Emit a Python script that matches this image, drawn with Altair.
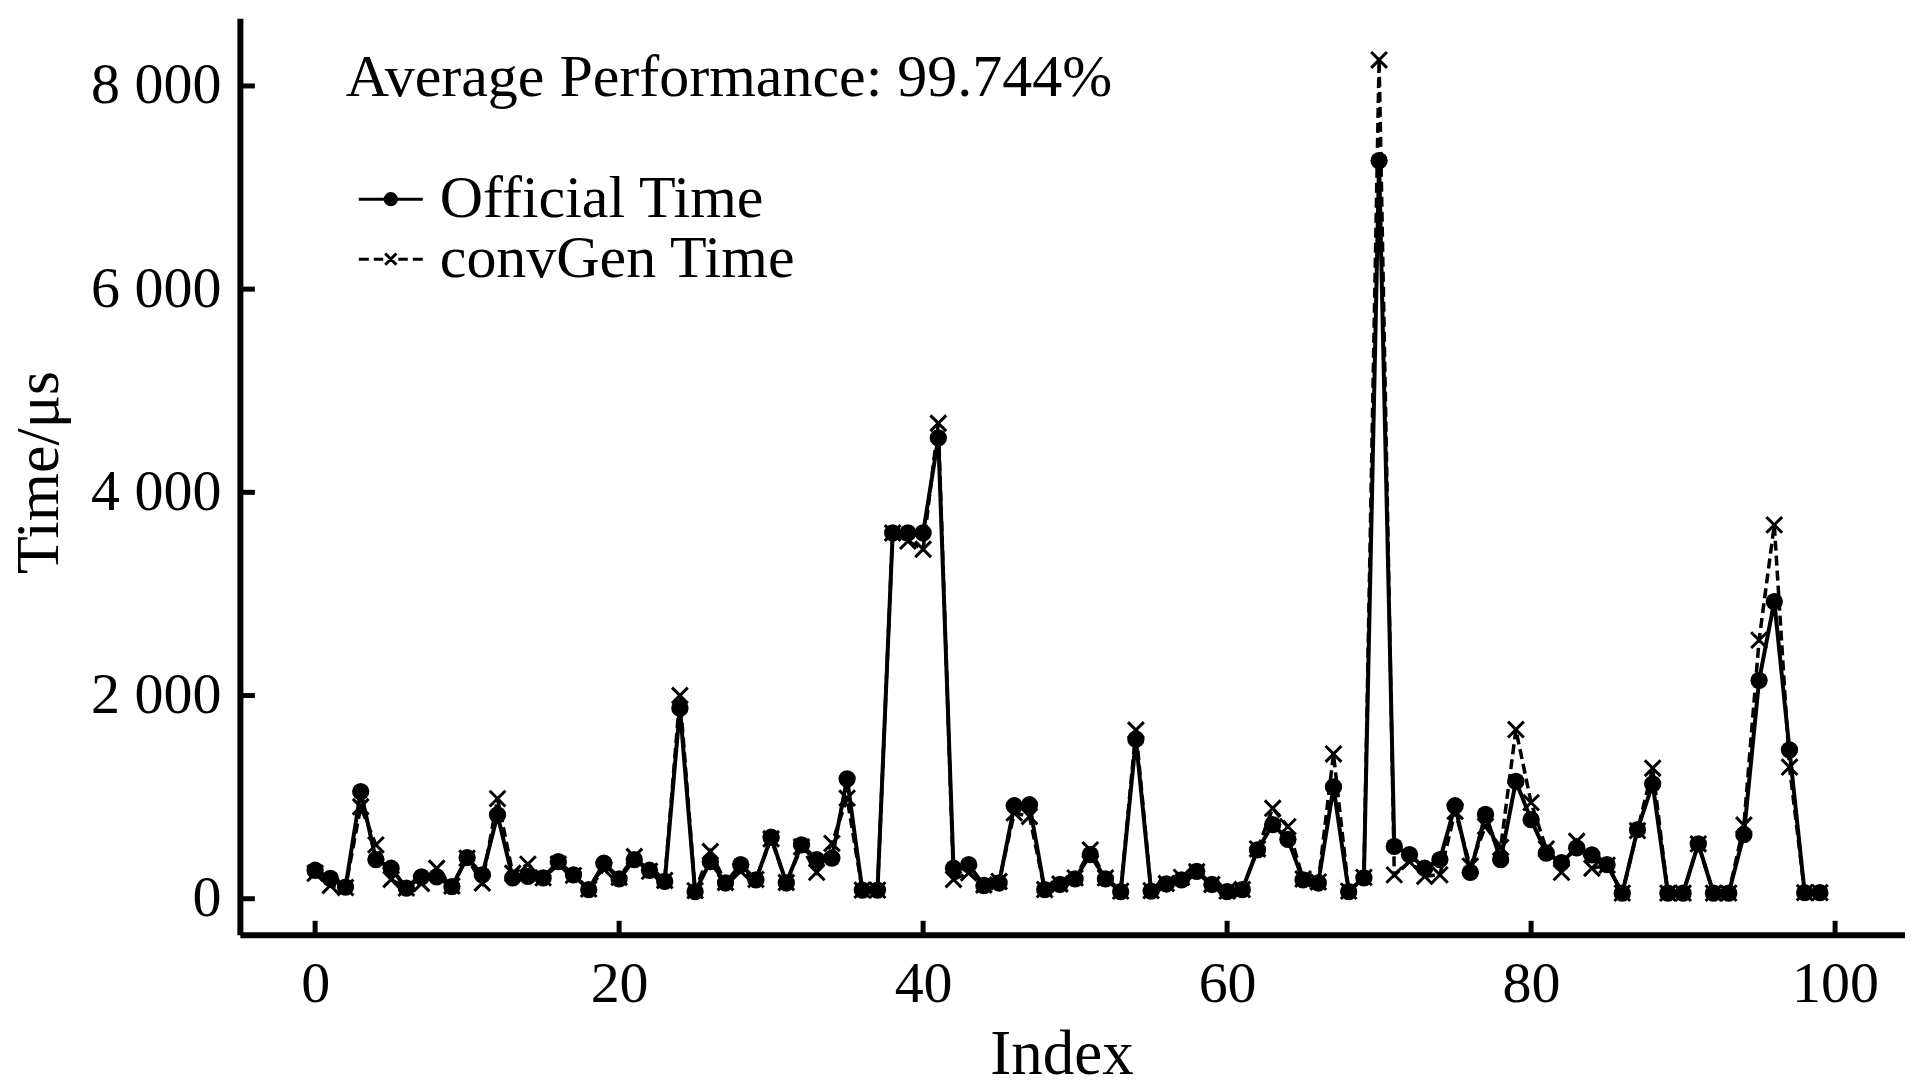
import altair as alt
import pandas as pd

index = list(range(100))
official = [280, 200, 115, 1055, 385, 300, 105, 215, 215, 120,
            405, 235, 825, 205, 220, 205, 365, 235, 90, 350,
            195, 385, 280, 170, 1875, 70, 365, 155, 335, 185,
            605, 155, 530, 385, 400, 1180, 85, 85, 3600, 3600,
            3600, 4535, 300, 335, 130, 155, 915, 925, 90, 140,
            195, 435, 195, 70, 1570, 75, 145, 185, 270, 140,
            70, 90, 480, 730, 585, 185, 155, 1100, 70, 205,
            7265, 515, 435, 300, 385, 915, 260, 830, 385, 1155,
            778, 450, 356, 500, 432, 335, 55, 680, 1130, 55,
            55, 540, 55, 55, 630, 2150, 2925, 1465, 60, 60]
convgen = [250, 130, 110, 905, 530, 190, 105, 150, 300, 125,
           400, 155, 985, 250, 340, 205, 340, 230, 95, 290,
           210, 415, 270, 180, 2000, 80, 465, 160, 270, 190,
           590, 160, 510, 260, 545, 990, 85, 85, 3600, 3520,
           3440, 4680, 190, 255, 135, 170, 845, 810, 90, 145,
           205, 480, 205, 75, 1660, 80, 150, 210, 265, 140,
           75, 90, 490, 890, 710, 195, 165, 1425, 75, 210,
           8256, 235, 365, 220, 235, 860, 320, 712, 505, 1665,
           946, 490, 260, 565, 300, 330, 55, 670, 1285, 55,
           55, 540, 55, 55, 725, 2545, 3680, 1295, 60, 60]
series_names = ["Official Time", "convGen Time"]
x_ticks = [0, 20, 40, 60, 80, 100]
y_ticks = [0, 2000, 4000, 6000, 8000]
annotation = "Average Performance: 99.744%"

FONT = "Liberation Serif"
W, H = 1666, 917

df = pd.DataFrame({
    "Index": index * 2,
    "Time": official + convgen,
    "series": [series_names[0]] * len(index) + [series_names[1]] * len(index),
})
df_off = df[df.series == series_names[0]]
df_conv = df[df.series == series_names[1]]

xscale = alt.Scale(domain=[-4.95, 104.6], nice=False, zero=False)
yscale = alt.Scale(domain=[-355, 8666], nice=False, zero=False)

label_expr = "replace(format(datum.value, ','), ',', ' ')"

xaxis = alt.Axis(values=x_ticks, title="Index", ticks=False, tickSize=0, grid=False,
                 domainWidth=6, domainColor="black", labelFont=FONT, labelFontSize=58,
                 labelColor="black", labelPadding=21, titleFont=FONT, titleFontSize=63,
                 titleFontWeight="normal", titleColor="black", titleBaseline="alphabetic",
                 titleY=139, titleX=822, titleAlign="center")
yaxis = alt.Axis(values=y_ticks, title="Time/μs", ticks=False, tickSize=0, grid=False,
                 domainWidth=6, domainColor="black", labelFont=FONT, labelFontSize=58,
                 labelColor="black", labelPadding=19, labelExpr=label_expr,
                 titleFont=FONT, titleFontSize=62, titleFontWeight="normal",
                 titleColor="black", titleBaseline="alphabetic", titleX=-182, titleY=454,
                 titleAngle=-90)


def ring(r):
    return "M%g,0A%g,%g,0,1,1,%g,0A%g,%g,0,1,1,%g,0" % (-r, r, r, r, r, r, -r)


# legend symbols (stroke only): line segment with a marker in the middle;
# the dot is drawn as concentric rings so that the stroke fills it
P_OFF = "M-1.6,0L1.6,0" + "".join(ring(r) for r in (0.28, 0.18, 0.09, 0.02))
P_CONV = ("M-1.6,0L-1.1,0M-0.85,0L-0.38,0M0.38,0L0.85,0M1.1,0L1.6,0"
          "M-0.28,-0.28L0.28,0.28M-0.28,0.28L0.28,-0.28")

legend = alt.Legend(
    orient="none", legendX=121, legendY=151,
    labelFont=FONT, labelFontSize=60, labelColor="black", labelOffset=19,
    labelLimit=800, symbolSize=1600, symbolStrokeWidth=3, rowPadding=0,
    symbolStrokeColor="black",
)

line_off = alt.Chart(df_off).mark_line(color="black", strokeWidth=4).encode(
    x=alt.X("Index:Q", scale=xscale, axis=xaxis),
    y=alt.Y("Time:Q", scale=yscale, axis=yaxis),
)
pts_off = alt.Chart(df_off).mark_circle(color="black", size=300, opacity=1).encode(
    x=alt.X("Index:Q", scale=xscale),
    y=alt.Y("Time:Q", scale=yscale),
)
line_conv = alt.Chart(df_conv).mark_line(color="black", strokeWidth=3.5, strokeDash=[10, 5]).encode(
    x=alt.X("Index:Q", scale=xscale),
    y=alt.Y("Time:Q", scale=yscale),
)
pts_conv = alt.Chart(df_conv).mark_point(
    shape="M-1,-1L1,1M-1,1L1,-1", filled=False, color="black", size=250,
    strokeWidth=3, opacity=1).encode(
    x=alt.X("Index:Q", scale=xscale),
    y=alt.Y("Time:Q", scale=yscale),
)

# legend-only layer: rows are filtered away, the shape scale keeps both entries
legend_layer = alt.Chart(df).transform_filter(
    alt.datum.Index < -1000
).mark_point(
    filled=False, color="black", strokeWidth=3, size=1600, opacity=1
).encode(
    x=alt.X("Index:Q", scale=xscale),
    y=alt.Y("Time:Q", scale=yscale),
    shape=alt.Shape("series:N", title="",
                    scale=alt.Scale(domain=series_names, range=[P_OFF, P_CONV]),
                    legend=legend),
)

ytick_df = pd.DataFrame({"Time": y_ticks})
xtick_df = pd.DataFrame({"Index": x_ticks})
yt = alt.Chart(ytick_df).mark_rule(color="black", strokeWidth=5).encode(
    y=alt.Y("Time:Q", scale=yscale), x=alt.value(0), x2=alt.value(15))
xt = alt.Chart(xtick_df).mark_rule(color="black", strokeWidth=5).encode(
    x=alt.X("Index:Q", scale=xscale), y=alt.value(H), y2=alt.value(H - 14))

ann = alt.Chart(pd.DataFrame({"t": [annotation]})).mark_text(
    font=FONT, fontSize=60, color="black", align="left", baseline="alphabetic"
).encode(text="t:N", x=alt.value(106), y=alt.value(78))

chart = alt.layer(legend_layer, line_off, pts_off, line_conv, pts_conv, yt, xt, ann).properties(
    width=W, height=H,
    background="white",
    autosize=alt.AutoSizeParams(type="none"),
    padding={"left": 232, "top": 10, "right": 0, "bottom": 144},
).configure_view(stroke=None)

chart.save("out.html", embed_options={"renderer": "svg", "actions": False})
